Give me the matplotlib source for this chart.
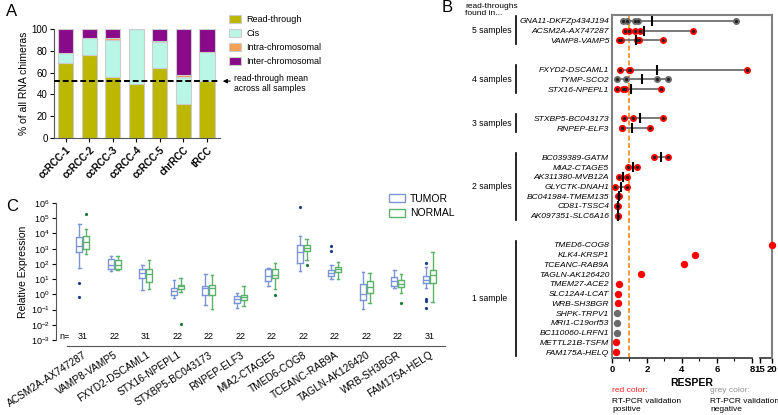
import numpy as np
import matplotlib.pyplot as plt
from matplotlib.patches import Patch
from matplotlib import transforms
from matplotlib.ticker import NullLocator

plt.rcParams['font.family'] = ['Liberation Sans', 'DejaVu Sans']
plt.rcParams['mathtext.fontset'] = 'custom'
plt.rcParams['mathtext.rm'] = 'Liberation Sans'

# ---- panel A data (% of all RNA chimeras) ----
samples = ['ccRCC-1', 'ccRCC-2', 'ccRCC-3', 'ccRCC-4', 'ccRCC-5', 'chrRCC', 'tRCC']
read_through = [69, 76, 56, 50, 64, 31, 52]
cis = [9, 16, 34, 50, 24, 25, 27]
intra = [0, 0, 2, 0, 1, 2, 0]
inter = [22, 8, 8, 0, 11, 42, 21]
rt_mean = 52

# ---- panel B data (RESPER per sample) ----
group_names = ['5 samples', '4 samples', '3 samples', '2 samples', '1 sample']
rt_genes = [
    ['GNA11-DKFZp434J194', 'ACSM2A-AX747287', 'VAMP8-VAMP5'],
    ['FXYD2-DSCAML1', 'TYMP-SCO2', 'STX16-NPEPL1'],
    ['STXBP5-BC043173', 'RNPEP-ELF3'],
    ['BC039389-GATM', 'MIA2-CTAGE5', 'AK311380-MVB12A', 'GLYCTK-DNAH1',
     'BC041984-TMEM135', 'CD81-TSSC4', 'AK097351-SLC6A16'],
    ['TMED6-COG8', 'KLK4-KRSP1', 'TCEANC-RAB9A', 'TAGLN-AK126420', 'TMEM27-ACE2',
     'SLC12A4-LCAT', 'WRB-SH3BGR', 'SHPK-TRPV1', 'MRI1-C19orf53', 'BC110060-LRFN1',
     'METTL21B-TSFM', 'FAM175A-HELQ'],
]
resper = [
    [[0.63, 0.86, 1.3, 1.5, 7.1], [0.74, 0.99, 1.31, 1.6, 4.61], [0.4, 0.51, 1.45, 1.56, 2.9]],
    [[0.46, 0.95, 1.05, 7.73], [0.3, 0.8, 2.55, 3.18], [0.27, 0.61, 0.75, 2.78]],
    [[0.69, 1.22, 2.93], [0.59, 0.6, 2.17]],
    [[2.4, 3.18], [0.9, 1.45], [0.4, 0.83], [0.17, 0.84], [0.36, 0.42], [0.3, 0.35], [0.33, 0.37]],
    [[20], [4.74], [4.11], [1.66], [0.4], [0.36], [0.32], [0.3], [0.28], [0.28], [0.23], [0.23]],
]
validated = [
    [False, True, True],
    [True, False, True],
    [True, True],
    [True, True, True, True, True, True, True],
    [True, True, True, True, True, True, True, False, False, False, True, True],
]

# ---- panel C data (log10 relative expression: whisker low, Q1, median, Q3, whisker high) ----
expr_genes = ['ACSM2A-AX747287', 'VAMP8-VAMP5', 'FXYD2-DSCAML1', 'STX16-NPEPL1',
              'STXBP5-BC043173', 'RNPEP-ELF3', 'MIA2-CTAGE5', 'TMED6-COG8',
              'TCEANC-RAB9A', 'TAGLN-AK126420', 'WRB-SH3BGR', 'FAM175A-HELQ']
n_samples = [31, 22, 31, 22, 22, 22, 22, 22, 22, 22, 22, 31]
tumor_box = [
    [1.75, 2.77, 3.17, 3.76, 4.63], [1.53, 1.68, 1.94, 2.29, 2.55], [0.26, 1.09, 1.42, 1.64, 1.9],
    [-0.22, -0.07, 0.2, 0.44, 0.96], [-0.68, -0.07, 0.41, 0.55, 1.31], [-0.87, -0.57, -0.28, -0.11, 0.11],
    [0.55, 0.87, 1.2, 1.64, 1.75], [1.53, 2.07, 2.77, 3.21, 3.86], [1.03, 1.2, 1.4, 1.57, 1.9],
    [-0.98, -0.39, 0.04, 0.66, 1.46], [0.41, 0.55, 0.85, 1.14, 1.59], [0.44, 0.72, 0.94, 1.23, 1.82],
]
tumor_out = [[0.76, -0.17], [], [], [], [], [], [], [5.72], [3.17, 2.84], [], [], [2.04, -0.3, -0.42, -0.92]]
normal_box = [
    [2.62, 2.95, 3.47, 3.8, 4.3], [1.57, 1.68, 1.9, 2.23, 2.55], [0.37, 0.81, 1.35, 1.68, 2.23],
    [0.15, 0.37, 0.52, 0.63, 1.07], [-0.94, -0.02, 0.41, 0.59, 1.24], [-0.76, -0.39, -0.17, -0.02, 0.55],
    [0.37, 1.07, 1.29, 1.64, 2.03], [2.23, 2.82, 3.03, 3.25, 3.65], [1.03, 1.46, 1.64, 1.79, 2.12],
    [-0.55, 0.09, 0.48, 0.9, 1.4], [0.1, 0.46, 0.7, 0.94, 1.31], [-0.48, 0.72, 1.27, 1.6, 2.76],
]
normal_out = [[5.28], [], [], [-1.92], [], [], [-0.07], [1.9], [], [], [-0.59], []]

W, H = 778, 415
fig = plt.figure(figsize=(W / 100, H / 100), dpi=100)


def fx(px):
    return px / W


def fy(py):
    return 1 - py / H


# ================= A =================
axA = fig.add_axes([fx(54), fy(138), fx(166), 109 / H])
x = np.arange(len(samples))
colorsA = ['#bcb700', '#b9f6e6', '#f7a254', '#880a88']
labelsA = ['Read-through', 'Cis', 'Intra-chromosomal', 'Inter-chromosomal']
bottom = np.zeros(len(samples))
for vals, c, lab in zip([read_through, cis, intra, inter], colorsA, labelsA):
    axA.bar(x, vals, 0.64, bottom=bottom, color=c, edgecolor='#cccccc', linewidth=0.8, label=lab)
    bottom += np.array(vals)
axA.axhline(rt_mean, color='black', ls=(0, (3, 1.5)), lw=1.4, zorder=5)
axA.set_xlim(-0.49, 6.55)
axA.set_ylim(0, 100)
axA.set_yticks(range(0, 101, 20))
axA.set_xticks(x)
axA.set_xticklabels(samples, rotation=45, ha='right', rotation_mode='anchor',
                    fontweight='bold', fontsize=7)
axA.tick_params(axis='y', labelsize=7, length=3, pad=1.5)
axA.tick_params(axis='x', length=3, pad=2)
for s in ['top', 'right']:
    axA.spines[s].set_visible(False)
for s in ['left', 'bottom']:
    axA.spines[s].set_color('#555555')
axA.set_ylabel('% of all RNA chimeras', fontsize=7.5, labelpad=2)
axA.legend(loc='upper left', bbox_to_anchor=(fx(229), fy(15)), bbox_transform=fig.transFigure,
           fontsize=6.5, frameon=False, borderpad=0, borderaxespad=0, handlelength=1.3,
           handleheight=0.9, labelspacing=0.55, handletextpad=0.6)
axA.annotate('', xy=(6.55, rt_mean), xycoords='data', xytext=(fx(233), fy(81)),
             textcoords='figure fraction',
             arrowprops=dict(arrowstyle='-|>', color='black', lw=0.8, mutation_scale=6))
fig.text(fx(234), fy(83.5), 'read-through mean\nacross all samples', fontsize=6.2,
         va='center', ha='left', linespacing=1.05)

# ================= B =================
axB = fig.add_axes([fx(612), fy(358), fx(160), 343 / H])


def fwd(v):
    v = np.asarray(v, dtype=float)
    return np.where(v <= 8, v, np.where(v <= 15, 8 + (v - 8) * 0.457 / 7, 8.457 + (v - 15) * 0.686 / 5))


def inv(v):
    v = np.asarray(v, dtype=float)
    return np.where(v <= 8, v, np.where(v <= 8.457, 8 + (v - 8) * 7 / 0.457, 15 + (v - 8.457) * 5 / 0.686))


axB.set_xscale('function', functions=(fwd, inv))
axB.set_xlim(0, 20)

rows, names = [], []
pos = 0
group_rows = []
for g in rt_genes:
    rr = list(range(pos, pos + len(g)))
    group_rows.append(rr)
    rows += rr
    names += g
    pos += len(g) + 2

axB.axvline(1, color='#f58a1f', ls=(0, (3, 1.5)), lw=1.2, zorder=1)
for gi in range(len(rt_genes)):
    for r, vals, ok in zip(group_rows[gi], resper[gi], validated[gi]):
        c = '#ff0000' if ok else '#6b6b6b'
        vals = np.array(vals)
        if len(vals) > 1:
            axB.hlines(r, vals.min(), vals.max(), color='#707070', lw=1.3, zorder=2)
            axB.plot(vals, [r] * len(vals), 'o', ms=4, mfc=c, mec=c, zorder=3)
            axB.plot(vals, [r] * len(vals), 'o', ms=1.3, color='#222222', zorder=4)
            axB.plot(vals.mean(), r, marker='|', ms=7, mew=1.5, color='black', zorder=5)
        else:
            axB.plot(vals, [r], 'o', ms=4.3, mfc=c, mec=c, zorder=3, clip_on=False)

axB.set_ylim(34.6, -0.6)
axB.set_yticks(rows)
axB.set_yticklabels(names, fontstyle='italic', fontsize=6.1)
axB.tick_params(axis='y', length=0, pad=2)
axB.set_xticks([0, 2, 4, 6, 8, 15, 20])
axB.set_xticklabels(['0', '2', '4', '6', '8', '15', '20'], fontweight='bold', fontsize=6.8)
axB.set_xticks([1, 3, 5, 7], minor=True)
axB.tick_params(axis='x', which='major', length=3.5, width=1, pad=1.5)
axB.tick_params(axis='x', which='minor', length=2, width=0.8)
for s in ['left', 'right', 'top']:
    axB.spines[s].set_color('#808080')
    axB.spines[s].set_linewidth(1.5)
axB.spines['bottom'].set_visible(False)
xt = axB.get_xaxis_transform()
for seg in [(0, 8), (15, 20)]:
    axB.plot(seg, [0, 0], transform=xt, color='#333333', lw=1.2, clip_on=False)
axB.set_xlabel('RESPER', fontweight='bold', fontsize=7.5, labelpad=3)

trans = transforms.blended_transform_factory(fig.transFigure, axB.transData)
for gname, rr in zip(group_names, group_rows):
    fig.text(fx(472), (rr[0] + rr[-1]) / 2, gname, transform=trans, fontsize=6.2, ha='left', va='center')
    axB.plot([fx(516), fx(516)], [rr[0] - 0.45, rr[-1] + 0.4], transform=trans,
             color='black', lw=1.2, clip_on=False)
fig.text(fx(465), fy(10), 'read-throughs\nfound in...', fontsize=6, ha='left', va='center',
         linespacing=1.15)
fig.text(fx(612), fy(390), 'red color:', color='#ff2020', fontsize=6, va='center')
fig.text(fx(612), fy(405), 'RT-PCR validation\npositive', fontsize=6, va='center', linespacing=1.2)
fig.text(fx(710), fy(390), 'grey color:', color='#909090', fontsize=6, va='center')
fig.text(fx(710), fy(405), 'RT-PCR validation\nnegative', fontsize=6, va='center', linespacing=1.2)

# ================= C =================
axC = fig.add_axes([fx(67), fy(340), fx(378), 137 / H])
# spine offsets first: set_position resets the ticks
for s in ['top', 'right']:
    axC.spines[s].set_visible(False)
axC.spines['left'].set_position(('outward', 8))
axC.spines['bottom'].set_position(('outward', 4))
for s in ['left', 'bottom']:
    axC.spines[s].set_color('#555555')

tumor_c, normal_c = '#7b96d6', '#5cb36a'
positions = np.arange(len(expr_genes))


def stats(boxes, outs):
    res = []
    for b, o in zip(boxes, outs):
        res.append(dict(whislo=10 ** b[0], q1=10 ** b[1], med=10 ** b[2], q3=10 ** b[3],
                        whishi=10 ** b[4], fliers=10 ** np.array(o)))
    return res


for boxes, outs, off, c, fc in [(tumor_box, tumor_out, -0.11, tumor_c, '#1c3d8c'),
                                (normal_box, normal_out, 0.11, normal_c, '#1b7a35')]:
    lp = dict(color=c, lw=1)
    axC.bxp(stats(boxes, outs), positions=positions + off, widths=0.19, capwidths=0.08,
            boxprops=lp, whiskerprops=lp, capprops=lp, medianprops=lp,
            flierprops=dict(marker='o', ms=2.3, mfc=fc, mec='none'), manage_ticks=False)

axC.set_yscale('log')
axC.set_ylim(1e-3, 1e6)
axC.set_yticks(10.0 ** np.arange(-3, 7))
axC.yaxis.set_minor_locator(NullLocator())
axC.set_xlim(-0.5, 11.5)
axC.set_xticks(positions)
axC.set_xticklabels(expr_genes, rotation=33, ha='right', va='top', rotation_mode='anchor', fontsize=7.3)
axC.tick_params(axis='x', length=0, pad=3)
axC.tick_params(axis='y', labelsize=6.5, length=3, pad=1.5)
axC.set_ylabel('Relative Expression', fontsize=7.5, labelpad=2)
for p, n in zip(positions, n_samples):
    axC.text(p, 10 ** -2.78, str(n), ha='center', va='center', fontsize=6.5)
axC.text(-0.42, 10 ** -2.78, 'n=', ha='right', va='center', fontsize=6.5)
axC.legend([Patch(facecolor='none', edgecolor=tumor_c, lw=1), Patch(facecolor='none', edgecolor=normal_c, lw=1)],
           ['TUMOR', 'NORMAL'], loc='upper left', bbox_to_anchor=(fx(389), fy(194)),
           bbox_transform=fig.transFigure, fontsize=7.5, frameon=False, borderpad=0,
           borderaxespad=0, handlelength=1.5, handleheight=0.8, labelspacing=0.4, handletextpad=0.5)

fig.text(fx(6), fy(11), 'A', fontsize=12, va='center')
fig.text(fx(442), fy(8), 'B', fontsize=12, va='center')
fig.text(fx(6), fy(206), 'C', fontsize=12, va='center')

fig.savefig('out.png', dpi=100)
plt.close()
